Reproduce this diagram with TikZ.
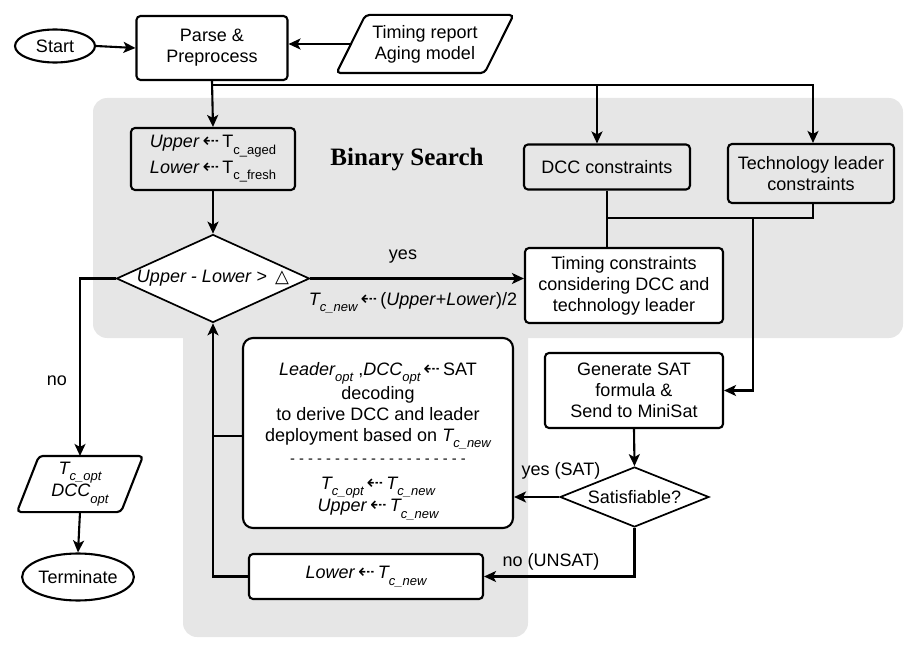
\documentclass[tikz,border=0pt]{standalone}
\usepackage{fontspec}
\setmainfont{Liberation Sans}
\newfontfamily\dejavu{DejaVu Sans}
\newfontfamily\serifbf{Liberation Serif}
\usetikzlibrary{shapes.geometric,arrows.meta}
\newcommand\la{\,{\dejavu\fontsize{20}{16}\selectfont ⇠}\,}
\newcommand\sbs[1]{\raisebox{-0.36em}{\fontsize{13}{13}\selectfont #1}}
\newcommand\Tn{\textit{T\sbs{c\_new}}}
\definecolor{regiongray}{HTML}{E6E6E6}
\begin{document}
\begin{tikzpicture}[x=1pt,y=-1pt, font=\fontsize{18}{21}\selectfont,
  line width=2.1pt,
  box/.style={draw, line width=2.1pt, rounded corners=4pt, align=center, inner sep=0pt},
  oval/.style={draw, line width=2.1pt, ellipse, inner sep=0pt},
  decision/.style={draw, line width=1.7pt, diamond, inner sep=0pt, align=center},
  ghost/.style={inner sep=0pt, align=center},
  shp/.style={draw, line width=2.1pt, rounded corners=4pt},
  arr/.style={-{Stealth[length=12pt,width=11pt,inset=3pt]}},
  lbl/.style={inner sep=0pt}
]
\useasboundingbox (0,0) rectangle (922,650);
% gray regions
\fill[regiongray, rounded corners=14pt] (93,98) rectangle (903,338);
\fill[regiongray, rounded corners=14pt] (183,300) rectangle (528,637);
\node[lbl, font=\serifbf\bfseries\fontsize{25}{25}\selectfont] (bs) at (407,160) {Binary Search};

% nodes
\node[oval, minimum width=80pt, minimum height=33pt] (start) at (55,46) {Start};
\node[box, minimum width=151pt, minimum height=64pt] (parse) at (212,48) {Parse \&\\Preprocess};
\node[ghost, minimum width=146pt, minimum height=56pt] (report) at (425,44) {Timing report\\Aging model};
\draw[shp] ([xshift=-14.5pt]report.south west) -- ([xshift=14.5pt]report.north west) -- ([xshift=14.5pt]report.north east) -- ([xshift=-14.5pt]report.south east) -- cycle;

\node[box, minimum width=164pt, minimum height=62pt] (ul) at (213,159) {\textit{Upper}\la T\sbs{c\_aged}\\[3pt]\textit{Lower}\la T\sbs{c\_fresh}};
\node[box, minimum width=166pt, minimum height=45pt] (dcc) at (607,167) {DCC constraints};
\node[box, minimum width=166pt, minimum height=59pt] (tech) at (811,173.5) {Technology leader\\constraints};
\node[decision, minimum width=193pt, minimum height=88pt, shape aspect=2.2, fill=white] (d1) at (213,278.5) {\textit{Upper - Lower} > \,{\dejavu △}};
\node[box, fill=white, minimum width=198pt, minimum height=75pt] (timing) at (624,285.5) {Timing constraints\\considering DCC and\\technology leader};
\node[box, fill=white, rounded corners=10pt, minimum width=270pt, minimum height=190pt] (big) at (378,433) {};
\node[ghost] (bigtext) at (378,441) {\textit{Leader\sbs{opt}} ,\textit{DCC\sbs{opt}}\la SAT\\[1pt]decoding\\to derive DCC and leader\\deployment based on \Tn\\[1pt]{\fontsize{14.7}{16}\selectfont - - - - - - - - - - - - - - - - - - - -}\\[5pt]\textit{T\sbs{c\_opt}}\la\Tn\\\textit{Upper}\la\Tn};
\node[box, fill=white, minimum width=178pt, minimum height=75pt] (gensat) at (634,390.5) {Generate SAT\\formula \&\\Send to MiniSat};
\node[decision, fill=white, minimum width=149pt, minimum height=60pt, shape aspect=2.5] (sat) at (634.5,497) {Satisfiable?};
\node[box, fill=white, minimum width=234pt, minimum height=45pt] (lower) at (366,576.5) {\textit{Lower}\la\Tn};
\node[ghost, minimum width=102pt, minimum height=54pt] (topt) at (80,484) {\textit{T\sbs{c\_opt}}\\\textit{DCC\sbs{opt}}};
\draw[shp] ([xshift=-11pt]topt.south west) -- ([xshift=11pt]topt.north west) -- ([xshift=11pt]topt.north east) -- ([xshift=-11pt]topt.south east) -- cycle;
\node[oval, minimum width=109pt, minimum height=47pt] (term) at (78,577) {Terminate};

% connectors
\draw[arr] (start.east) -- (parse.west);
\draw[arr] (report.west) -- (report.west -| parse.east);
\draw[arr] (parse.south) -- (ul.north);
\coordinate (j1) at (212,85);
\coordinate (j2) at (597,85);
\draw[arr] (j1) -| ([xshift=2pt]tech.north);
\draw[arr] (j2) -- (j2 |- dcc.north);
\draw[arr] (ul.south) -- (d1.north);
\draw[arr] (d1.east) -- (d1.east -| timing.west);
\node[lbl] (yes1) at (403,257) {yes};
\node[lbl] (tnew) at (413,303) {\Tn\la(\textit{Upper}+\textit{Lower})/2};
\coordinate (j3) at (607,218);
\coordinate (j4) at (753,218);
\draw (dcc.south) -- (dcc.south |- timing.north);
\draw ([xshift=2pt]tech.south) |- (j3);
\draw[arr] (j4) |- (gensat.east);
\draw[arr] (gensat.south) -- (sat.north);
\draw[arr] (sat.west) -- (sat.west -| big.east);
\node[lbl] (ysat) at (561,471) {yes (SAT)};
\draw[arr] (sat.south) |- (lower.east);
\node[lbl] (nunsat) at (551,562) {no (UNSAT)};
\draw[arr] (lower.west) -| (d1.south);
\draw ([yshift=-3pt]big.west) -- (d1.south |- 0,436);
\draw[arr] (d1.west) -| (topt.north);
\node[lbl] (no1) at (57,381) {no};
\draw[arr] (topt.south) -- (term.north);
\end{tikzpicture}
\end{document}
